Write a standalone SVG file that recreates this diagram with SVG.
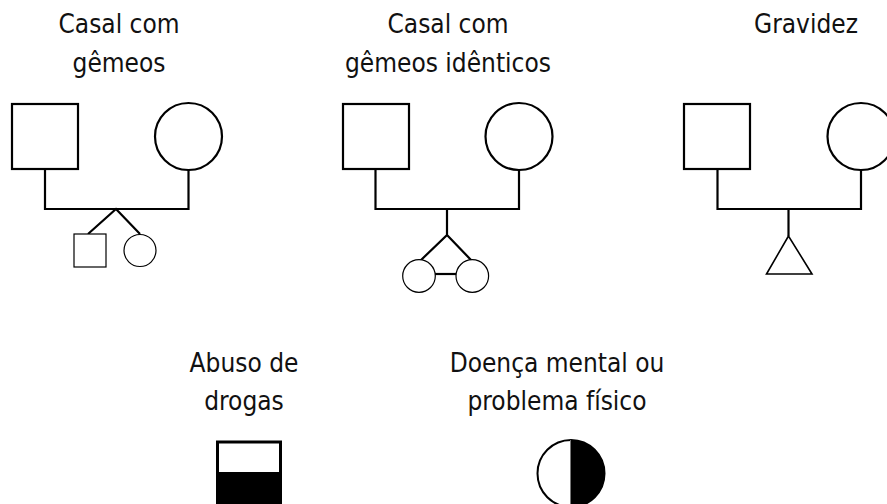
<svg xmlns="http://www.w3.org/2000/svg" width="887" height="504" viewBox="0 0 887 504">
<style>
.lbl{font-family:"DejaVu Sans Condensed","DejaVu Sans",sans-serif;font-size:26px;fill:#111;text-anchor:middle}
.s{fill:#fff;stroke:#000;stroke-width:2.2}
.t{fill:#fff;stroke:#000;stroke-width:1.2}
.c{fill:none;stroke:#000;stroke-width:2.2}
</style>
<rect width="887" height="504" fill="#fff"/>
<g id="labels">
<text class="lbl" x="119" y="33">Casal com</text>
<text class="lbl" x="119" y="72">gêmeos</text>
<text class="lbl" x="448" y="33">Casal com</text>
<text class="lbl" x="448" y="72">gêmeos idênticos</text>
<text class="lbl" x="806" y="33">Gravidez</text>
<text class="lbl" x="244" y="372">Abuso de</text>
<text class="lbl" x="244" y="410">drogas</text>
<text class="lbl" x="557" y="372">Doença mental ou</text>
<text class="lbl" x="557" y="410">problema físico</text>
</g>
<g id="connectors">
<path class="c" d="M45,169V209H188.5V170"/>
<path class="c" d="M88,234L116,209L140,234"/>
<path class="c" d="M375.5,169V209H519V170"/>
<path class="c" d="M447,209V235L420,261M447,235L472,261"/>
<path class="c" d="M435,274H456"/>
<path class="c" d="M717.5,169V209H861V170"/>
<path class="c" d="M788.5,209V236"/>
</g>
<g id="father1"><rect class="s" x="12" y="104" width="66" height="65"/></g>
<g id="mother1"><circle class="s" cx="188.5" cy="136.5" r="33.5"/></g>
<g id="twin-boy"><rect class="t" x="74" y="234" width="32" height="33"/></g>
<g id="twin-girl"><circle class="t" cx="140" cy="250.5" r="16"/></g>
<g id="father2"><rect class="s" x="343" y="104" width="66" height="65"/></g>
<g id="mother2"><circle class="s" cx="519" cy="136.5" r="33.5"/></g>
<g id="id-twin1"><circle class="t" cx="419" cy="276" r="16.3"/></g>
<g id="id-twin2"><circle class="t" cx="472.3" cy="276" r="16.3"/></g>
<g id="father3"><rect class="s" x="684" y="104" width="66" height="65"/></g>
<g id="mother3"><circle class="s" cx="861" cy="136.5" r="33.5"/></g>
<g id="pregnancy"><polygon class="t" points="788.5,236 766.5,274 812,274" style="stroke-width:1.6"/></g>
<g id="drug-abuse">
<rect x="217" y="441.5" width="64" height="70" fill="#000" stroke="#000" stroke-width="2"/>
<rect x="219" y="443.5" width="60" height="28.5" fill="#fff"/>
</g>
<g id="mental-illness">
<circle cx="571" cy="473.5" r="33.5" fill="#fff" stroke="#000" stroke-width="2"/>
<path d="M571,440A33.5,33.5 0 0 1 571,507Z" fill="#000"/>
<line x1="570.5" y1="440" x2="570.5" y2="504" stroke="#777" stroke-width="1"/>
</g>
</svg>
